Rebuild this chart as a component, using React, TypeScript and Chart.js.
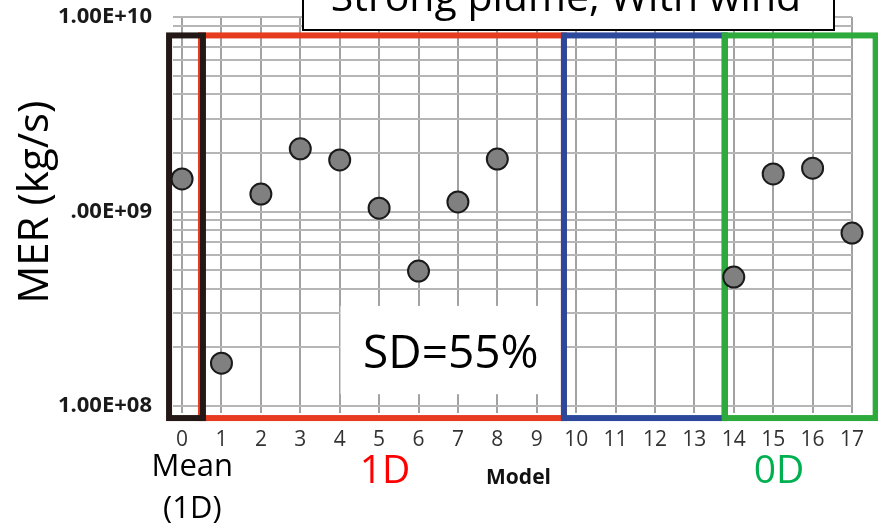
import React, { useEffect, useRef } from "react";
import { Chart, registerables } from "chart.js";

Chart.register(...registerables);

// ---- Data ----
const models: number[] = [0, 1, 2, 3, 4, 5, 6, 7, 8, 9, 10, 11, 12, 13, 14, 15, 16, 17];
const merValues: (number | null)[] = [
  1.47e9, 1.66e8, 1.23e9, 2.1e9, 1.84e9, 1.04e9, 4.94e8, 1.12e9, 1.86e9,
  null, null, null, null, null,
  4.6e8, 1.56e9, 1.67e9, 7.75e8,
];
const yDecades: number[] = [1e8, 1e9];
const yMultipliers: number[] = [1, 2, 3, 4, 5, 6, 7, 8, 9];
const yMajorValues: number[] = [1e8, 1e9, 1e10];
const yMajorLabels: string[] = ["1.00E+08", "1.00E+09", "1.00E+10"];
const chartTitle = "Strong plume, With wind";
const yTitle = "MER (kg/s)";
const xTitle = "Model";
const sdLabel = "SD=55%";

// group frames (in data units: model index range, MER range)
const groupFrameFrom: number[] = [0.48, 9.69, 13.77, -0.33];
const groupFrameTo: number[] = [9.69, 13.77, 17.6, 0.53];
const groupFrameColors: string[] = ["#e63b1f", "#2b489b", "#2ea93c", "#231815"];
const frameTop = 8.04e9;
const frameBottom = 8.67e7;

// group labels under the axis
const groupLabelText: string[][] = [["Mean", "(1D)"], ["1D"], ["0D"]];
const groupLabelAt: number[] = [0.26, 5.15, 15.15];
const groupLabelColors: string[] = ["#000000", "#ff0000", "#00b050"];

// SD annotation box (data units)
const sdBoxX: number[] = [4.02, 9.62];
const sdBoxY: number[] = [1.15e8, 3.27e8];

const FONT = "'Open Sans', 'Noto Sans', sans-serif";

const overlayPlugin = {
  id: "overlay",
  beforeDatasetsDraw(chart: any) {
    const { ctx, scales } = chart;
    const xs = scales.x;
    const ys = scales.y;
    ctx.save();
    // SD white box
    const bx0 = xs.getPixelForValue(sdBoxX[0]);
    const bx1 = xs.getPixelForValue(sdBoxX[1]);
    const by0 = ys.getPixelForValue(sdBoxY[1]);
    const by1 = ys.getPixelForValue(sdBoxY[0]);
    ctx.fillStyle = "#ffffff";
    ctx.fillRect(bx0, by0, bx1 - bx0, by1 - by0);
    ctx.fillStyle = "#000000";
    ctx.font = `46px ${FONT}`;
    ctx.textAlign = "center";
    ctx.textBaseline = "alphabetic";
    ctx.fillText(sdLabel, (bx0 + bx1) / 2, (by0 + by1) / 2 + 18);

    // group frames
    const top = ys.getPixelForValue(frameTop);
    const bottom = ys.getPixelForValue(frameBottom);
    ctx.lineWidth = 6;
    ctx.lineJoin = "miter";
    for (let i = 0; i < groupFrameFrom.length; i++) {
      const l = xs.getPixelForValue(groupFrameFrom[i]);
      const r = xs.getPixelForValue(groupFrameTo[i]);
      ctx.strokeStyle = groupFrameColors[i];
      ctx.strokeRect(l, top, r - l, bottom - top);
    }
    ctx.restore();
  },
  afterDraw(chart: any) {
    const { ctx, scales, chartArea } = chart;
    const xs = scales.x;
    ctx.save();
    // Title box (partly above the page)
    ctx.fillStyle = "#ffffff";
    ctx.fillRect(303, -10, 531, 40);
    ctx.strokeStyle = "#000000";
    ctx.lineWidth = 2;
    ctx.strokeRect(303, -10, 531, 40);
    ctx.fillStyle = "#000000";
    ctx.font = `41px ${FONT}`;
    ctx.textAlign = "center";
    ctx.textBaseline = "alphabetic";
    ctx.fillText(chartTitle, 566, 11);

    // y title with white background
    ctx.fillStyle = "#ffffff";
    ctx.fillRect(0, 92, 71, 220);
    ctx.save();
    ctx.translate(48, 202);
    ctx.rotate(-Math.PI / 2);
    ctx.fillStyle = "#000000";
    ctx.font = `42px ${FONT}`;
    ctx.textAlign = "center";
    ctx.fillText(yTitle, 0, 0);
    ctx.restore();

    // x title
    ctx.fillStyle = "#111111";
    ctx.font = `bold 21px ${FONT}`;
    ctx.textAlign = "center";
    ctx.fillText(xTitle, (chartArea.left + chartArea.right) / 2 + 6, 484);

    // group labels
    for (let i = 0; i < groupLabelText.length; i++) {
      const cx = xs.getPixelForValue(groupLabelAt[i]);
      ctx.fillStyle = groupLabelColors[i];
      const lines = groupLabelText[i];
      if (lines.length > 1) {
        ctx.font = `31px ${FONT}`;
        ctx.fillText(lines[0], cx, 476);
        ctx.fillText(lines[1], cx, 518);
      } else {
        ctx.font = `39px ${FONT}`;
        ctx.fillText(lines[0], cx, 483);
      }
    }
    ctx.restore();
  },
};

export default function App() {
  const canvasRef = useRef<HTMLCanvasElement | null>(null);

  useEffect(() => {
    if (!canvasRef.current) return;
    const points = models
      .map((m, i) => ({ x: m, y: merValues[i] }))
      .filter((p) => p.y !== null) as { x: number; y: number }[];

    const yTicks: { value: number }[] = [];
    yDecades.forEach((d) => yMultipliers.forEach((m) => yTicks.push({ value: m * d })));
    yTicks.push({ value: 1e10 });

    const chart = new Chart(canvasRef.current, {
      type: "scatter",
      data: {
        datasets: [
          {
            data: points,
            pointRadius: 10.5,
            pointHoverRadius: 10.5,
            pointBackgroundColor: "#808080",
            pointBorderColor: "#1a1a1a",
            pointBorderWidth: 2,
            showLine: false,
            clip: false as any,
          },
        ],
      },
      options: {
        animation: false,
        responsive: false,
        devicePixelRatio: 1,
        layout: { padding: { top: 17, right: 26, left: 0, bottom: 0 } },
        plugins: {
          legend: { display: false },
          tooltip: { enabled: false },
          title: { display: false },
        },
        scales: {
          x: {
            type: "linear",
            min: -0.23,
            max: 17,
            afterBuildTicks: (axis: any) => {
              axis.ticks = models.map((v) => ({ value: v }));
            },
            afterFit: (axis: any) => {
              axis.height = 118;
              axis.paddingLeft = 0;
              axis.paddingRight = 0;
            },
            grid: {
              color: "#a2a2a2",
              lineWidth: 2,
              drawTicks: true,
              tickLength: 7,
            },
            border: { display: false },
            ticks: {
              autoSkip: false,
              maxRotation: 0,
              padding: 14,
              color: "#333333",
              font: { family: FONT, size: 21 },
              callback: (v: any) => String(v),
            },
          },
          y: {
            type: "logarithmic",
            min: 1e8,
            max: 1e10,
            afterBuildTicks: (axis: any) => {
              axis.ticks = yTicks.map((t) => ({ value: t.value }));
            },
            afterFit: (axis: any) => {
              axis.width = 173;
              axis.paddingTop = 0;
              axis.paddingBottom = 0;
            },
            grid: {
              color: "#b6b6b6",
              lineWidth: 2,
              drawTicks: false,
            },
            border: { display: false },
            ticks: {
              autoSkip: false,
              padding: 21,
              color: "#1a1a1a",
              font: { family: FONT, size: 22, weight: "bold" },
              callback: (v: any) => {
                const i = yMajorValues.indexOf(Number(v));
                return i >= 0 ? yMajorLabels[i] : "";
              },
            },
          },
        },
      },
      plugins: [overlayPlugin],
    } as any);

    return () => chart.destroy();
  }, []);

  return (
    <div
      style={{
        position: "absolute",
        left: 0,
        top: 0,
        width: 878,
        height: 524,
        background: "#ffffff",
      }}
    >
      <canvas ref={canvasRef} width={878} height={524} style={{ width: 878, height: 524, display: "block" }} />
    </div>
  );
}
